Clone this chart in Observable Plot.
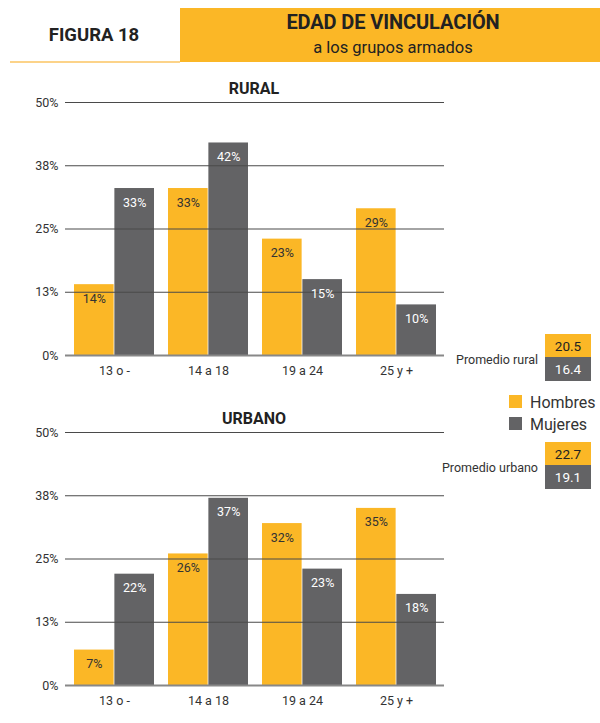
<!DOCTYPE html>
<html>
<head>
<meta charset="utf-8">
<script src="https://cdn.jsdelivr.net/npm/d3@7"></script>
<script src="https://cdn.jsdelivr.net/npm/@observablehq/plot@0.6"></script>
<style>
  html, body { margin: 0; padding: 0; background: #fff; }
  #root { position: relative; width: 600px; height: 723px; overflow: hidden; font-family: Roboto, "Liberation Sans", sans-serif; color: #333; }
  .abs { position: absolute; }
  .ctr { transform: translate(-50%, -50%); white-space: nowrap; }
  .rmid { transform: translate(-100%, -50%); white-space: nowrap; }
  .lmid { transform: translate(0, -50%); white-space: nowrap; }
  .box { position: absolute; display: flex; align-items: center; justify-content: center; font-size: 13.5px; }
</style>
</head>
<body>
<div id="root"></div>
<script>
// ---- data ----
const ages = ["13 o -", "14 a 18", "19 a 24", "25 y +"];
const hombresRural = [14, 33, 23, 29];
const mujeresRural = [33, 42, 15, 10];
const hombresUrbano = [7, 26, 32, 35];
const mujeresUrbano = [22, 37, 23, 18];
const yTicks = [0, 12.5, 25, 37.5, 50];
const yTickLabels = ["0%", "13%", "25%", "38%", "50%"];
const series = ["Hombres", "Mujeres"];
const promedioRural = [20.5, 16.4];
const promedioUrbano = [22.7, 19.1];

const ORANGE = "#fbb726";
const GRAY = "#636365";
const root = document.getElementById("root");

function add(html, cls, style) {
  const d = document.createElement("div");
  d.className = cls;
  Object.assign(d.style, style);
  d.innerHTML = html;
  root.appendChild(d);
  return d;
}

// ---- header ----
add("", "abs", {left: "180px", top: "8px", width: "420px", height: "54px", background: ORANGE});
add("", "abs", {left: "10px", top: "61px", width: "170px", height: "2px", background: "#fcd389"});
add("FIGURA 18", "abs ctr", {left: "94px", top: "35px", fontWeight: "bold", fontSize: "18.5px", color: "#222"});
add("EDAD DE VINCULACIÓN", "abs ctr", {left: "393px", top: "22px", fontWeight: "bold", fontSize: "20px", color: "#222", letterSpacing: "-0.1px"});
add("a los grupos armados", "abs ctr", {left: "393px", top: "47px", fontSize: "16.5px", color: "#222"});

// ---- panels ----
const W = 450, ML = 65, MR = 6, PI = 0.15, PO = 0.07;
const bw = (W - ML - MR) / (ages.length - PI + 2 * PO) * (1 - PI);

function panel(h, m, top) {
  const rows = ages.flatMap((a, i) => [
    {age: a, sex: series[0], v: h[i]},
    {age: a, sex: series[1], v: m[i]}
  ]);
  const H = rows.filter(d => d.sex === series[0]);
  const M = rows.filter(d => d.sex === series[1]);
  const chart = Plot.plot({
    width: W, height: 310,
    marginTop: 22, marginBottom: 35, marginLeft: ML, marginRight: MR,
    style: {background: "transparent", fontFamily: "Roboto, 'Liberation Sans', sans-serif", fontSize: "12.5px", color: "#333"},
    x: {domain: ages, paddingInner: PI, paddingOuter: PO, label: null, tickSize: 0, tickPadding: 11},
    y: {domain: [0, 50], label: null, ticks: yTicks, tickFormat: d => yTickLabels[yTicks.indexOf(d)], tickSize: 0, tickPadding: 7},
    marks: [
      Plot.barY(H, {x: "age", y: "v", fill: ORANGE, insetRight: bw / 2}),
      Plot.barY(M, {x: "age", y: "v", fill: GRAY, insetLeft: bw / 2}),
      Plot.ruleY(yTicks.filter(t => t > 0), {stroke: "#4a4a4a", strokeWidth: 1.2}),
      Plot.ruleY([0], {stroke: "#888", strokeWidth: 2}),
      Plot.text(H, {x: "age", y: "v", text: d => d.v + "%", dx: -bw / 4, dy: 14, fill: "#333", fontSize: 12.5}),
      Plot.text(M, {x: "age", y: "v", text: d => d.v + "%", dx: bw / 4, dy: 14, fill: "#fff", fontSize: 12.5})
    ]
  });
  chart.style.position = "absolute";
  chart.style.left = "0px";
  chart.style.top = top + "px";
  root.appendChild(chart);
}

panel(hombresRural, mujeresRural, 80);
panel(hombresUrbano, mujeresUrbano, 410);

add("RURAL", "abs ctr", {left: "254px", top: "88px", fontWeight: "bold", fontSize: "16px", color: "#222"});
add("URBANO", "abs ctr", {left: "254px", top: "418px", fontWeight: "bold", fontSize: "16px", color: "#222"});

// ---- right legend ----
function promedio(label, vals, labelY, boxTop) {
  add(label, "abs rmid", {left: "538px", top: labelY + "px", fontSize: "12.5px", color: "#333"});
  add(String(vals[0].toFixed(1)), "box", {left: "545px", top: boxTop + "px", width: "46px", height: "23px", background: ORANGE, color: "#222"});
  add(String(vals[1].toFixed(1)), "box", {left: "545px", top: (boxTop + 23) + "px", width: "46px", height: "24px", background: GRAY, color: "#fff"});
}
promedio("Promedio rural", promedioRural, 359, 334);
promedio("Promedio urbano", promedioUrbano, 467, 442);

[ORANGE, GRAY].forEach((c, i) => {
  add("", "abs", {left: "509px", top: (395 + i * 22) + "px", width: "13px", height: "13px", background: c});
  add(series[i], "abs lmid", {left: "530px", top: (402 + i * 22) + "px", fontSize: "16px", color: "#333"});
});
</script>
</body>
</html>
